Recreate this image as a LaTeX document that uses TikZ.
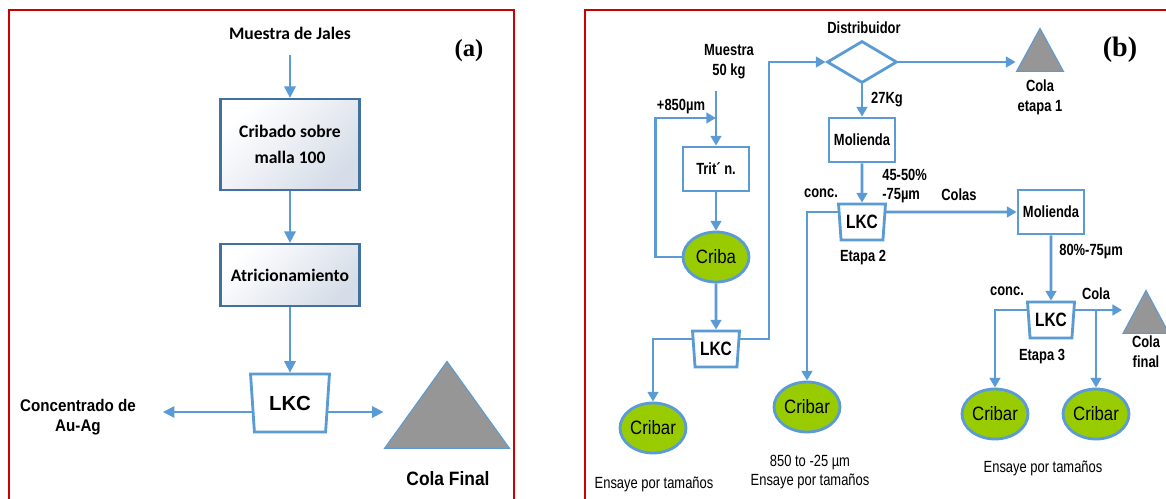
\documentclass[tikz,border=0pt]{standalone}
\usepackage{fontspec}
\setmainfont{Liberation Sans}
\newfontfamily\calibrifont{Carlito}
\newfontfamily\narrowfont[FakeStretch=0.8]{Liberation Sans}
\newfontfamily\ovalfont[FakeStretch=0.87]{Liberation Sans}
\newfontfamily\labelfont[FakeStretch=0.9]{Liberation Sans}
\newfontfamily\seriffont{Liberation Serif}
\usepackage{xcolor}
\usetikzlibrary{arrows.meta, positioning, shapes.geometric, backgrounds}

\definecolor{framered}{RGB}{204,0,0}
\definecolor{flowblue}{RGB}{91,155,213}
\definecolor{boxblue}{RGB}{65,113,156}
\definecolor{boxshade}{RGB}{214,221,232}
\definecolor{sievegreen}{RGB}{153,204,0}
\definecolor{tailgray}{RGB}{150,150,150}

\begin{document}
\begin{tikzpicture}[x=0.02cm, y=-0.02cm,
    panel/.style={draw=framered, line width=1.1pt},
    arra/.style={draw=flowblue, line width=1.1pt, -{Triangle[length=6.5pt, width=6.5pt]}},
    arrb/.style={draw=flowblue, line width=1.6pt, -{Triangle[length=5.5pt, width=6pt]}},
    boxa/.style={draw=boxblue, line width=1.3pt, top color=white, bottom color=boxshade, shading angle=45, minimum width=2.78cm, align=center, font=\calibrifont\bfseries\fontsize{10}{15}\selectfont},
    boxb/.style={draw=flowblue, line width=1.6pt, fill=white, minimum width=1.32cm, minimum height=0.88cm, inner sep=0pt, font=\narrowfont\bfseries\fontsize{9.2}{11}\selectfont},
    lkc/.style={trapezium, shape border rotate=180, trapezium stretches=true, draw=flowblue, fill=white, inner sep=0pt},
    lkcb/.style={lkc, line width=1.6pt, trapezium left angle=82, trapezium right angle=82, minimum width=0.94cm, minimum height=0.72cm, font=\narrowfont\bfseries\fontsize{11}{13}\selectfont},
    sieve/.style={ellipse, draw=flowblue, line width=1.6pt, fill=sievegreen, minimum width=1.32cm, minimum height=1.0cm, inner sep=0pt, font=\ovalfont\fontsize{11}{13}\selectfont},
    tail/.style={isosceles triangle, isosceles triangle stretches, shape border rotate=90, draw=flowblue, fill=tailgray, inner sep=0pt, anchor=apex},
    lbl/.style={align=center, inner sep=0pt, font=\narrowfont\bfseries\fontsize{9.2}{11.3}\selectfont},
    note/.style={align=center, inner sep=0pt, font=\narrowfont\fontsize{9.2}{11.3}\selectfont}
]
    \useasboundingbox (0,0) rectangle (1166,498);
    \draw[panel] (9,10) rectangle (514,520);
    \draw[panel] (585,10) rectangle (1190,520);

    % Panel (a)
    \node[font=\calibrifont\bfseries\fontsize{10}{12}\selectfont] (jales) at (290,33) {Muestra de Jales};
    \node[boxa, minimum height=1.82cm] (cribado) at (290,144.5) {Cribado sobre\\malla 100};
    \node[boxa, minimum height=1.24cm] (atric) at (290,275) {Atricionamiento};
    \node[lkc, line width=1.6pt, trapezium left angle=81, trapezium right angle=81, minimum width=1.58cm, minimum height=1.16cm, font=\bfseries\fontsize{11.6}{14}\selectfont] (lkca) at (290,403) {LKC};
    \node[align=center, font=\labelfont\bfseries\fontsize{9.6}{11.3}\selectfont] (conc) at (78,417) {Concentrado de\\Au-Ag};
    \node[tail, line width=0.6pt, minimum width=2.5cm, minimum height=1.74cm] (colafinal) at (447,360) {};
    \node[font=\labelfont\bfseries\fontsize{11}{13}\selectfont] (colafinaltxt) at (448,479) {Cola Final};
    \node[font=\seriffont\bfseries\fontsize{14}{16}\selectfont] (taga) at (469,51) {(a)};

    % Panel (b)
    \node[lbl] (muestra) at (729,62) {Muestra\\50 kg};
    \node[boxb] (tritn) at (716,169) {Trit´ n.};
    \node[sieve] (criba) at (716,257) {Criba};
    \node[lkcb] (lkcone) at (716,349) {LKC};
    \node[sieve] (cribarone) at (653,428) {Cribar};
    \node[note] (ensayoone) at (654,484) {Ensaye por tamaños};
    \node[lbl] (cribapass) at (681,107) {+850µm};
    \node[diamond, draw=flowblue, line width=1.6pt, fill=white, minimum width=1.4cm, minimum height=0.84cm, inner sep=0pt] (distrib) at (862,62) {};
    \node[lbl] (distribtxt) at (864,28) {Distribuidor};
    \node[tail, line width=0.6pt, minimum width=0.94cm, minimum height=0.86cm] (colaone) at (1040,27) {};
    \node[lbl] (colaonetxt) at (1040,97) {Cola\\etapa 1};
    \node[font=\seriffont\bfseries\fontsize{16}{18}\selectfont] (tagb) at (1120,50) {(b)};
    \node[lbl] (kg) at (887,100) {27Kg};
    \node[boxb] (molone) at (862,140) {Molienda};
    \node[lkcb] (lkctwo) at (862,222) {LKC};
    \node[lbl, align=left, anchor=west] (grindone) at (882,186) {45-50\%\\-75µm};
    \node[lbl] (colas) at (959,195) {Colas};
    \node[lbl] (concone) at (821,193) {conc.};
    \node[lbl] (etapados) at (863,258) {Etapa 2};
    \node[boxb] (moltwo) at (1051,212) {Molienda};
    \node[sieve] (cribartwo) at (807,407) {Cribar};
    \node[note] (ensayotwo) at (810,472) {850 to -25 µm\\Ensaye por tamaños};
    \node[lbl, anchor=west] (grindtwo) at (1059,252) {80\%-75µm};
    \node[lkcb] (lkcthree) at (1051,320) {LKC};
    \node[lbl] (conctwo) at (1007,291) {conc.};
    \node[lbl] (colatxt) at (1096,294) {Cola};
    \node[lbl] (etapatres) at (1042,357) {Etapa 3};
    \node[tail, line width=0.6pt, minimum width=0.92cm, minimum height=0.86cm] (colafin) at (1146,289) {};
    \node[lbl] (colafintxt) at (1146,352) {Cola\\final};
    \node[sieve] (cribarthree) at (995,414) {Cribar};
    \node[sieve] (cribarfour) at (1096,414) {Cribar};
    \node[note] (ensayothree) at (1043,468) {Ensaye por tamaños};
    \coordinate (feed) at (716,118);

    \begin{scope}[on background layer]
        \draw[arra, shorten <=0.2cm] (jales) -- (cribado);
        \draw[arra] (cribado) -- (atric);
        \draw[arra] (atric) -- (lkca);
        \draw[arra, shorten >=0.42cm] ([yshift=-0.18cm]lkca.center) -- ([yshift=-0.18cm]lkca.center -| conc.east);
        \draw[arra] ([yshift=-0.18cm]lkca.center) -- ([yshift=-0.18cm]lkca.center -| colafinal.left corner);

        \draw[arrb, shorten <=0.22cm] (muestra.south -| tritn.north) -- (tritn.north);
        \draw[arrb] (criba.west) -- ++(-26,0) |- (feed);
        \draw[arrb] (tritn) -- (criba);
        \draw[arrb] (criba) -- (lkcone);
        \draw[arrb] ([yshift=0.2cm]lkcone.center) -- ++(53,0) |- (distrib.west);
        \draw[arrb] ([yshift=0.2cm]lkcone.center) -| (cribarone.north);
        \draw[arrb] (distrib.east) -- (distrib.east -| colaone.left corner);
        \draw[arrb] (distrib) -- (molone);
        \draw[arrb] (molone) -- (lkctwo);
        \draw[arrb] ([yshift=0.2cm]lkctwo.center) -- (moltwo.west);
        \draw[arrb] ([yshift=0.2cm]lkctwo.center) -| (cribartwo.north);
        \draw[arrb] (moltwo) -- (lkcthree);
        \draw[arrb] ([yshift=0.2cm]lkcthree.center) -- ([yshift=0.2cm]lkcthree.center -| colafin.left corner);
        \draw[arrb] ([yshift=0.2cm]lkcthree.center -| cribarfour.north) -- (cribarfour.north);
        \draw[arrb] ([yshift=0.2cm]lkcthree.center) -| (cribarthree.north);
    \end{scope}
\end{tikzpicture}
\end{document}
